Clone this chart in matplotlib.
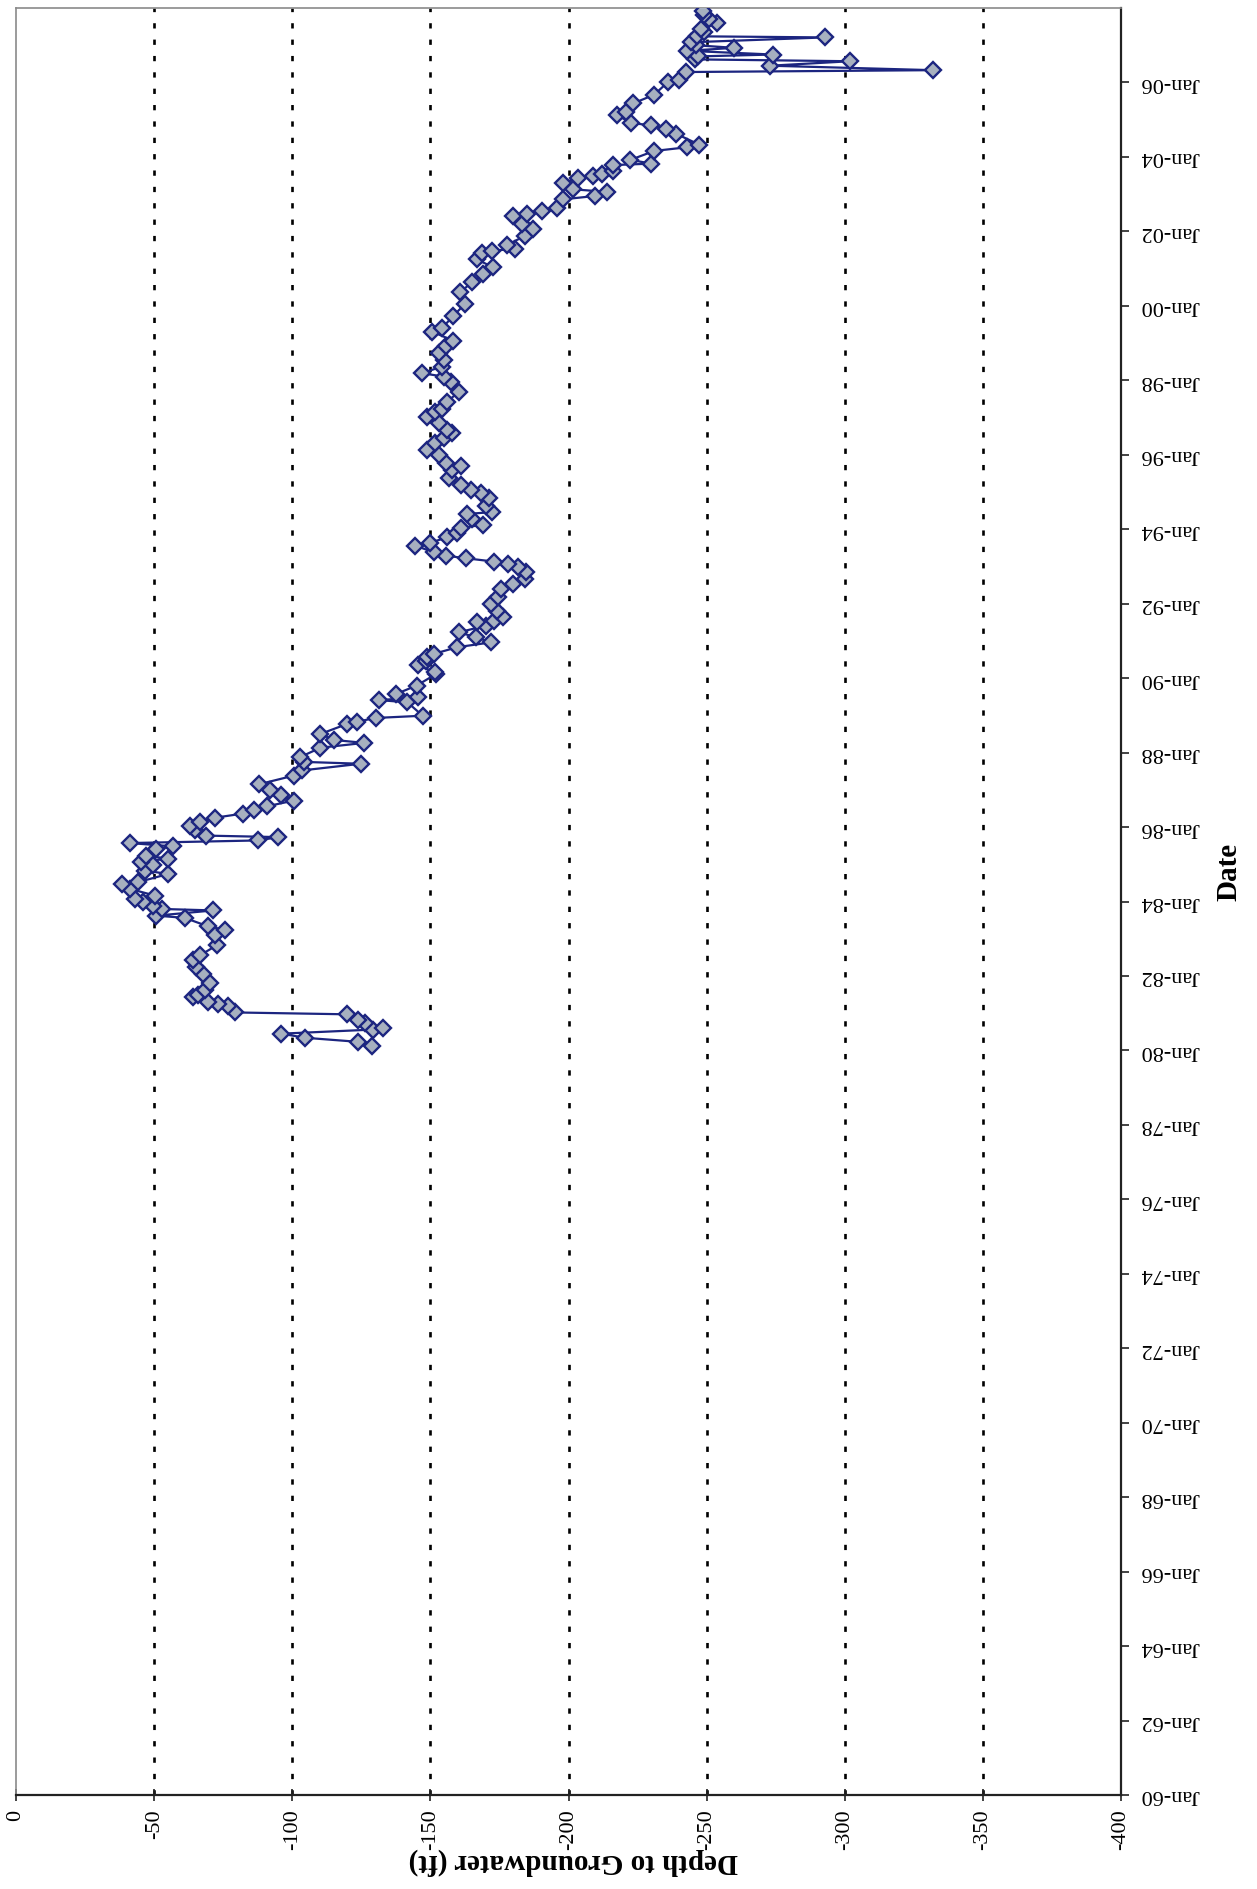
import matplotlib
matplotlib.use("Agg")
import matplotlib.pyplot as plt
import numpy as np

# ---------------- data ----------------
dates = [
    1980.13, 1980.23, 1980.34, 1980.45, 1980.56, 1980.59, 1980.74, 1980.81, 1980.97,
    1981.02, 1981.18, 1981.25, 1981.30, 1981.43, 1981.50, 1981.61, 1981.80,
    1982.06, 1982.24, 1982.42, 1982.55, 1982.82,
    1983.09, 1983.24, 1983.33, 1983.56, 1983.62, 1983.76, 1983.80, 1983.89, 1983.98,
    1984.07, 1984.16, 1984.34, 1984.47, 1984.52, 1984.74, 1984.83, 1984.97,
    1985.07, 1985.15, 1985.23, 1985.40, 1985.48, 1985.57, 1985.64, 1985.73, 1985.77, 1985.91,
    1986.04, 1986.13, 1986.25, 1986.36, 1986.46, 1986.56, 1986.71, 1986.85,
    1987.00, 1987.15, 1987.38, 1987.52, 1987.70, 1987.75, 1987.88,
    1988.13, 1988.26, 1988.34, 1988.50, 1988.77, 1988.83, 1988.93, 1988.99,
    1989.35, 1989.41, 1989.48, 1989.57, 1989.80,
    1990.11, 1990.16, 1990.34, 1990.47, 1990.56, 1990.65, 1990.83, 1990.96,
    1991.10, 1991.23, 1991.41, 1991.50, 1991.54, 1991.63, 1991.80, 1991.99,
    1992.17, 1992.39, 1992.53, 1992.66, 1992.84, 1992.98,
    1993.06, 1993.13, 1993.22, 1993.29, 1993.38, 1993.56, 1993.64, 1993.78, 1993.91,
    1994.03, 1994.12, 1994.28, 1994.41, 1994.46, 1994.63, 1994.85, 1994.97,
    1995.06, 1995.19, 1995.37, 1995.60, 1995.69, 1995.78,
    1996.00, 1996.13, 1996.31, 1996.44, 1996.58, 1996.67, 1996.84,
    1997.02, 1997.15, 1997.24, 1997.42, 1997.69, 1997.96,
    1998.10, 1998.19, 1998.37, 1998.55, 1998.73, 1998.91,
    1999.06, 1999.31, 1999.40, 1999.73,
    2000.05, 2000.36, 2000.63, 2000.85,
    2001.03, 2001.25, 2001.43, 2001.48, 2001.53, 2001.63, 2001.88,
    2002.06, 2002.19, 2002.42, 2002.46, 2002.55, 2002.64, 2002.86, 2002.95,
    2003.06, 2003.13, 2003.31, 2003.43, 2003.49, 2003.55, 2003.62, 2003.78, 2003.82, 2003.92,
    2004.16, 2004.26, 2004.33, 2004.62, 2004.74, 2004.85, 2004.91,
    2005.12, 2005.20, 2005.44, 2005.67,
    2006.01, 2006.06, 2006.28, 2006.33, 2006.45, 2006.57, 2006.62, 2006.70, 2006.75,
    2006.85, 2006.93, 2007.00, 2007.08, 2007.21, 2007.24, 2007.35, 2007.44, 2007.60,
    2007.70, 2007.80, 2007.92,
]
depth_ft = [
    -128.7, -123.9, -104.6, -96.1, -129.3, -132.7, -126.3, -123.9, -119.7,
    -79.2, -76.8, -73.2, -69.6, -64.1, -66.0, -68.4, -70.2,
    -67.7, -65.3, -64.1, -66.5, -72.6,
    -72.0, -75.6, -69.6, -61.1, -50.8, -71.4, -52.7, -49.6, -46.0,
    -43.0, -50.2, -41.2, -38.2, -44.2, -55.1, -46.6, -49.6,
    -45.4, -55.1, -47.2, -50.8, -56.9, -41.2, -87.7, -94.9, -68.9, -64.7,
    -62.9, -66.5, -72.0, -82.0, -86.0, -91.0, -100.5, -96.0,
    -92.0, -88.0, -100.5, -103.5, -124.8, -104.1, -102.9,
    -110.2, -126.0, -115.0, -110.2, -119.9, -123.5, -130.2, -147.2,
    -141.7, -131.4, -145.4, -137.5, -145.0,
    -152.1, -151.8, -145.4, -148.4, -148.8, -151.2, -159.7, -171.9,
    -166.4, -160.3, -170.1, -167.0, -173.1, -176.2, -174.0, -171.9,
    -174.3, -175.5, -179.8, -184.1, -184.7, -181.6,
    -178.0, -173.1, -162.8, -155.5, -151.2, -144.5, -150.0, -156.1, -159.7,
    -161.0, -168.9, -165.0, -163.4, -172.4, -170.0, -171.2, -168.3,
    -164.6, -161.0, -156.7, -157.9, -161.0, -155.5,
    -153.0, -148.8, -151.8, -154.8, -157.9, -156.0, -153.0,
    -148.8, -151.8, -154.2, -156.0, -160.3, -157.3,
    -154.8, -147.0, -154.2, -154.8, -153.0, -155.5,
    -158.3, -150.6, -154.2, -158.3,
    -162.5, -160.7, -165.0, -169.2,
    -172.8, -166.8, -168.6, -172.2, -180.6, -177.6, -184.3,
    -187.3, -183.0, -180.0, -184.9, -190.3, -195.7, -198.0, -209.5,
    -214.0, -201.8, -198.0, -203.6, -209.0, -212.0, -216.2, -216.0, -230.0, -222.4,
    -231.0, -243.0, -247.3, -239.0, -235.4, -229.8, -222.8,
    -217.6, -220.7, -223.5, -231.0,
    -236.0, -240.0, -242.4, -332.0, -273.0, -302.0, -245.7, -247.0, -274.0,
    -243.0, -260.0, -246.0, -244.5, -292.9, -246.6, -249.0, -248.0, -253.9,
    -250.8, -249.0, -248.7,
]

depth_ticks = [0, -50, -100, -150, -200, -250, -300, -350, -400]
depth_tick_labels = ["0", "-50", "-100", "-150", "-200", "-250", "-300", "-350", "-400"]
date_ticks = list(range(1960, 2007, 2))
date_tick_labels = ["Jan-%02d" % (y % 100) for y in date_ticks]
gridline_depths = [-50, -100, -150, -200, -250, -300, -350]

x_label = "Depth to Groundwater (ft)"
y_label = "Date"

# ---------------- figure ----------------
W, H = 1257, 1889
DPI = 100
fig = plt.figure(figsize=(W / DPI, H / DPI), dpi=DPI, facecolor="white")

serif = ["Liberation Serif", "DejaVu Serif"]

ax_l, ax_r, ax_t, ax_b = 16, 1121, 8, 1795
ax = fig.add_axes([ax_l / W, (H - ax_b) / H, (ax_r - ax_l) / W, (ax_b - ax_t) / H])
ax.set_facecolor("white")

for g in gridline_depths:
    ax.axvline(g, color="black", lw=1.9, ls=(0, (2.0, 4.2)), zorder=1)

ax.plot(depth_ft, dates, color="#1c2580", lw=1.6, zorder=3,
        marker="D", markersize=8, markerfacecolor="#a7b0bf",
        markeredgecolor="#1c2580", markeredgewidth=1.7)

ax.set_xlim(0, -400)
ax.set_ylim(1960, 2008)

ax.set_xticks(depth_ticks)
ax.set_xticklabels(depth_tick_labels, rotation=90, fontsize=16, family=serif)
ax.yaxis.tick_right()
ax.set_yticks(date_ticks)
ax.set_yticklabels(date_tick_labels, rotation=180, fontsize=16, family=serif,
                   va="center")

ax.tick_params(axis="x", direction="inout", length=9, width=1.2, color="#222222", pad=6)
ax.tick_params(axis="y", direction="out", length=6, width=1.2, color="#222222", pad=8)

for side in ("left", "top"):
    ax.spines[side].set_color("#8a8a8a")
    ax.spines[side].set_linewidth(1.2)
for side in ("right", "bottom"):
    ax.spines[side].set_color("#222222")
    ax.spines[side].set_linewidth(1.6)

# axis titles (figure is rotated: text upside-down / vertical)
fig.text(573 / W, 1 - 1862 / H, x_label, rotation=180,
         ha="center", va="center", fontsize=21, fontweight="bold", family=serif)
fig.text(1229 / W, 1 - 872 / H, y_label, rotation=90,
         ha="center", va="center", fontsize=21, fontweight="bold", family=serif)

fig.savefig("out.png", dpi=DPI, facecolor="white")
